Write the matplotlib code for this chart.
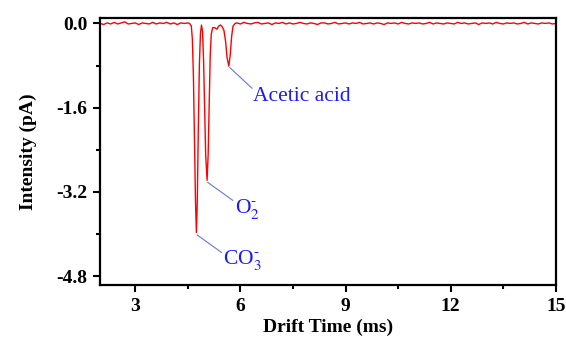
import matplotlib
matplotlib.use("Agg")
import matplotlib.pyplot as plt
from matplotlib.ticker import MultipleLocator

plt.rcParams['font.family'] = ['Liberation Serif', 'DejaVu Serif']
plt.rcParams['mathtext.fontset'] = 'stix'

# baseline before the peaks, 2.0 -> 4.5 ms, step 0.1
base_left_t = [2.0 + 0.1 * i for i in range(26)]
base_left_i = [0.00, -0.02, 0.01, -0.01, 0.02, -0.01, 0.01, 0.03, -0.01, 0.00,
               0.01, -0.02, 0.01, 0.00, -0.01, 0.02, -0.01, 0.01, 0.00, 0.02,
               -0.01, 0.01, -0.02, 0.01, 0.00, 0.01]

# peak region
peak_t = [4.55, 4.60, 4.63, 4.66, 4.69, 4.72, 4.745, 4.77, 4.80, 4.83, 4.86, 4.89,
          4.92, 4.95, 4.98, 5.01, 5.05, 5.08, 5.11, 5.14, 5.17, 5.21, 5.27, 5.33,
          5.38, 5.43, 5.48, 5.53, 5.58, 5.62, 5.67, 5.71, 5.75, 5.79, 5.85]
peak_i = [0.00, -0.05, -0.30, -1.00, -2.20, -3.40, -3.97, -3.40, -2.00, -0.80, -0.20, -0.03,
          -0.15, -0.70, -1.60, -2.50, -2.98, -2.50, -1.50, -0.60, -0.20, -0.08, -0.08, -0.11,
          -0.05, -0.03, -0.06, -0.13, -0.35, -0.65, -0.81, -0.60, -0.25, -0.05, 0.00]

# baseline after the peaks, 5.9 -> 15.0 ms, step 0.1
base_right_t = [5.9 + 0.1 * i for i in range(92)]
base_right_i = [0.01, -0.01, 0.02, 0.00, -0.01, 0.01, 0.02, -0.01, 0.00, 0.01,
                -0.02, 0.01, 0.00, 0.02, -0.01, 0.01, -0.01, 0.00, 0.02, 0.00,
                -0.01, 0.01, 0.00, -0.02, 0.01, 0.01, -0.01, 0.00, 0.02, -0.01,
                0.00, 0.01, -0.01, 0.01, 0.00, 0.02, -0.01, 0.00, 0.01, -0.01,
                0.01, 0.00, -0.02, 0.01, 0.00, 0.01, -0.01, 0.02, 0.00, -0.01,
                0.01, 0.00, 0.01, -0.01, 0.00, 0.02, -0.01, 0.01, 0.00, -0.01,
                0.01, 0.00, -0.01, 0.02, 0.00, 0.01, -0.01, 0.00, 0.01, -0.02,
                0.01, 0.00, 0.01, -0.01, 0.02, 0.00, -0.01, 0.01, 0.00, 0.01,
                -0.01, 0.00, 0.02, -0.01, 0.01, 0.00, -0.01, 0.01, 0.00, 0.01,
                -0.01, 0.00]

drift_time = base_left_t + peak_t + base_right_t
intensity = base_left_i + peak_i + base_right_i

# labels: text, peak point, line end, text position
labels = ["CO$_3^{‐}$", "O$_2^{‐}$", "Acetic acid"]
label_peak = [(4.77, -4.02), (5.07, -3.02), (5.70, -0.84)]
label_line_end = [(5.46, -4.35), (5.78, -3.36), (6.33, -1.23)]
label_pos = [(5.50, -4.50), (5.84, -3.52), (6.37, -1.38)]

fig = plt.figure(figsize=(5.66, 3.43), dpi=100)
ax = fig.add_axes([0.177, 0.169, 0.805, 0.778])

ax.plot(drift_time, intensity, color='red', lw=1.0)

for txt, p, e, pos in zip(labels, label_peak, label_line_end, label_pos):
    ax.plot([p[0], e[0]], [p[1], e[1]], color='#6a78d8', lw=0.8)
    ax.text(pos[0], pos[1], txt, color='#1a1aff', fontsize=15.5, va='center', ha='left')

ax.set_xlim(2, 15)
ax.set_ylim(-4.97, 0.1)
ax.xaxis.set_major_locator(MultipleLocator(3))
ax.xaxis.set_minor_locator(MultipleLocator(1.5))
ax.set_yticks([0.0, -1.6, -3.2, -4.8])
ax.set_yticklabels(['0.0', '-1.6', '-3.2', '-4.8'])
ax.yaxis.set_minor_locator(MultipleLocator(0.8))

ax.tick_params(which='both', direction='out', width=1.5, top=False, right=False)
ax.tick_params(which='major', length=5, pad=4)
ax.tick_params(which='minor', length=3)
for lab in ax.get_xticklabels() + ax.get_yticklabels():
    lab.set_fontweight('bold')
    lab.set_fontsize(14)
for s in ax.spines.values():
    s.set_linewidth(1.6)

ax.set_xlabel('Drift Time (ms)', fontsize=14, fontweight='bold', labelpad=3)
ax.set_ylabel('Intensity (pA)', fontsize=14, fontweight='bold', labelpad=14)

fig.savefig('out.png', dpi=100)
